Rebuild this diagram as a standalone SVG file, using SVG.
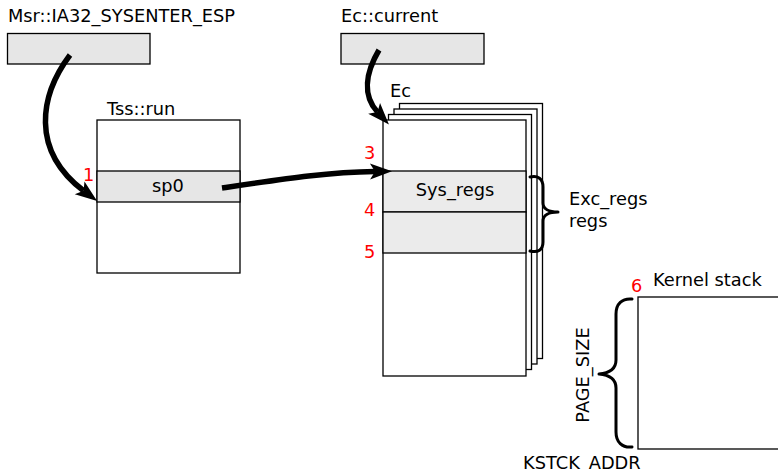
<svg xmlns="http://www.w3.org/2000/svg" width="778" height="472" viewBox="0 0 778 472">
<style>
text{font-family:"DejaVu Sans","Liberation Sans",sans-serif;font-size:17.8px;fill:#000}
.red{fill:#ff0000}
.box{fill:#ffffff;stroke:#000;stroke-width:1.3}
.band{fill:#e6e6e6;stroke:#000;stroke-width:1.3}
.band2{fill:#ebebeb;stroke:#000;stroke-width:1.3}
.arrow{fill:none;stroke:#000;stroke-width:5.5;marker-end:url(#head)}
.brace{fill:none;stroke:#000;stroke-width:3;stroke-linecap:round;stroke-linejoin:round}
</style>
<defs>
<marker id="head" markerUnits="userSpaceOnUse" markerWidth="30" markerHeight="24" viewBox="-2 -12 30 24" refX="5" refY="0" orient="auto">
<path d="M0,-8 L22,0 L0,8 L5,0 z" fill="#000"/>
</marker>
</defs>
<rect width="778" height="472" fill="#ffffff"/>

<g id="msr">
<text x="8" y="22">Msr::IA32_SYSENTER_ESP</text>
<rect class="band" x="7.5" y="33.5" width="142.5" height="30.5"/>
</g>

<g id="tss">
<text x="107" y="115">Tss::run</text>
<rect class="box" x="97" y="120" width="143" height="153"/>
<rect class="band" x="97" y="171" width="143" height="31"/>
<text x="168" y="192" text-anchor="middle">sp0</text>
<text class="red" x="83" y="181">1</text>
</g>

<g id="eccurrent">
<text x="341" y="22">Ec::current</text>
<rect class="band" x="341" y="33.5" width="143" height="30.5"/>
</g>

<g id="ec">
<text x="390" y="97">Ec</text>
<rect class="box" x="399.5" y="103.5" width="143" height="255"/>
<rect class="box" x="394" y="109" width="143" height="255"/>
<rect class="box" x="388.5" y="114.5" width="143" height="255"/>
<rect class="box" x="383" y="120" width="143" height="256"/>
<rect class="band2" x="383" y="171" width="143" height="41"/>
<rect class="band2" x="383" y="212" width="143" height="41"/>
<text x="455" y="196" text-anchor="middle">Sys_regs</text>
<text class="red" x="364" y="159">3</text>
<text class="red" x="364" y="216">4</text>
<text class="red" x="364" y="258">5</text>
</g>

<g id="excregs">
<path class="brace" d="M530,177 C538,175 543,179 543,187 L543,203 C543,209 549,212 558,212 C549,212 543,215 543,221 L543,242 C543,250 538,253 530,251"/>
<text x="569" y="205">Exc_regs</text>
<text x="569" y="227">regs</text>
</g>

<g id="kstack">
<text class="red" x="631" y="292">6</text>
<text x="653" y="286">Kernel stack</text>
<rect class="box" x="638" y="297" width="160" height="152"/>
<path class="brace" d="M632,299 C622,298 616,304 616,314 L616,360 C616,368 610,373 599,374 C610,375 616,380 616,388 L616,432 C616,442 622,448 632,447"/>
<text transform="translate(589,375) rotate(-90)" text-anchor="middle">PAGE_SIZE</text>
<text x="523" y="469">KSTCK_ADDR</text>
</g>

<g id="connectors">
<path class="arrow" d="M70,55 C40,95 30,150 83.6,190.8"/>
<path class="arrow" d="M379,50 C366,72 362,95 377.5,112"/>
<path class="arrow" d="M222,188 C290,178 330,172 375,171.5"/>
</g>
</svg>
